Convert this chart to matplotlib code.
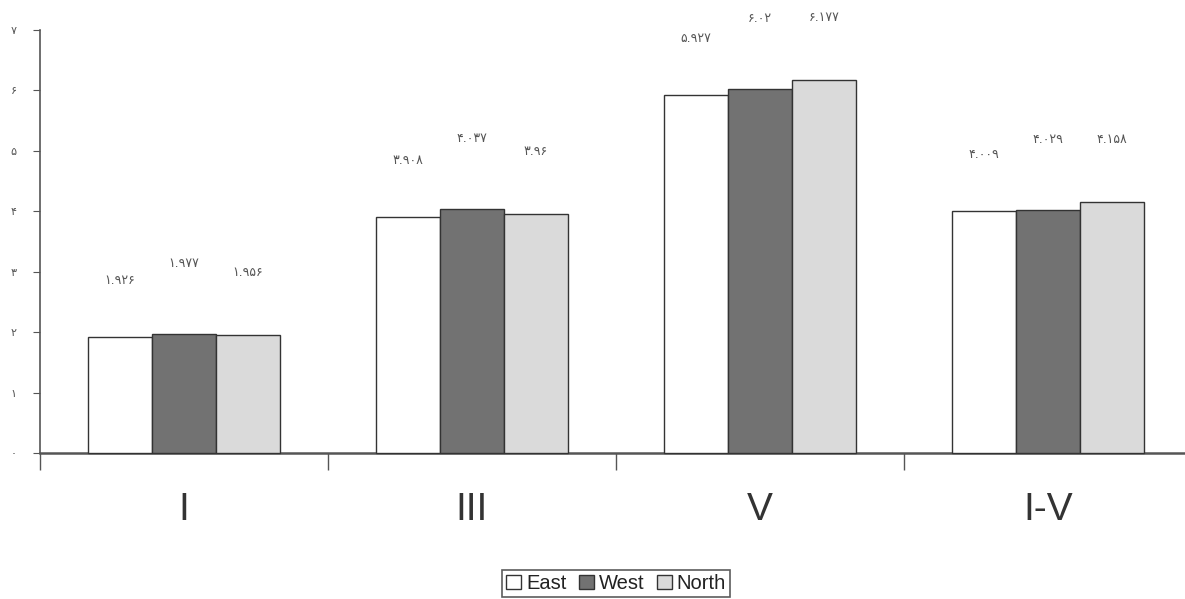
import matplotlib
matplotlib.use("Agg")
import matplotlib.pyplot as plt
import numpy as np
from matplotlib import font_manager

categories = ["I", "III", "V", "I-V"]
series = ["East", "West", "North"]
east = [1.926, 3.908, 5.927, 4.009]
west = [1.977, 4.037, 6.020, 4.029]
north = [1.956, 3.960, 6.177, 4.158]
east_labels = ["۱.۹۲۶", "۳.۹۰۸", "۵.۹۲۷", "۴.۰۰۹"]
west_labels = ["۱.۹۷۷", "۴.۰۳۷", "۶.۰۲", "۴.۰۲۹"]
north_labels = ["۱.۹۵۶", "۳.۹۶", "۶.۱۷۷", "۴.۱۵۸"]
ytick_labels = ["۰", "۱", "۲", "۳", "۴", "۵", "۶", "۷"]

colors = ["#ffffff", "#727272", "#dadada"]
label_offsets = [36, 46, 40]  # points above bar top

names = {f.name for f in font_manager.fontManager.ttflist}
narrow = "Liberation Sans Narrow" if "Liberation Sans Narrow" in names else "Liberation Sans"

fig = plt.figure(figsize=(11.85, 5.99), dpi=100)
ax = fig.add_axes([40/1185, 1 - 453/599, 1152/1185, (453-30)/599])

x = np.arange(len(categories))
w = 0.222
for i, (vals, labs) in enumerate(zip([east, west, north], [east_labels, west_labels, north_labels])):
    pos = x + (i - 1) * w
    ax.bar(pos, vals, width=w, color=colors[i], edgecolor="#333333", linewidth=1.0,
           label=series[i], clip_on=False, zorder=3)
    for px, v, t in zip(pos, vals, labs):
        ax.annotate(t, (px, v), xytext=(0, label_offsets[i]), textcoords="offset points",
                    ha="center", va="bottom", fontsize=9, color="#555555",
                    family="DejaVu Sans", annotation_clip=False)

ax.set_xlim(-0.5, 3.5)
ax.set_ylim(0, 7)
for s in ["top", "right"]:
    ax.spines[s].set_visible(False)
ax.spines["left"].set_color("#555555")
ax.spines["bottom"].set_color("#555555")
ax.spines["left"].set_linewidth(1.2)
ax.spines["bottom"].set_linewidth(1.8)

ax.set_yticks(range(8))
ax.set_yticklabels(ytick_labels, fontsize=8, color="#555555", family="DejaVu Sans")
ax.tick_params(axis="y", length=5, color="#555555", pad=12)

ax.set_xticks(x)
ax.set_xticklabels(categories, fontsize=28, color="#333333", family=narrow)
ax.tick_params(axis="x", which="major", length=0, pad=28)
ax.set_xticks(np.arange(-0.5, 3.6, 1), minor=True)
ax.tick_params(axis="x", which="minor", length=12, color="#555555", width=1.0)

leg = fig.legend(loc="lower center", bbox_to_anchor=(0.52, 0.0), ncol=3, frameon=True,
                 fancybox=False, edgecolor="#333333", fontsize=14.5, handlelength=0.75,
                 handleheight=0.75, handletextpad=0.25, columnspacing=0.6,
                 borderpad=0.2, borderaxespad=0.1)
leg.get_frame().set_linewidth(1.2)
for t in leg.get_texts():
    t.set_family("Liberation Sans")
    t.set_color("#222222")

fig.savefig("out.png", dpi=100, facecolor="white")
